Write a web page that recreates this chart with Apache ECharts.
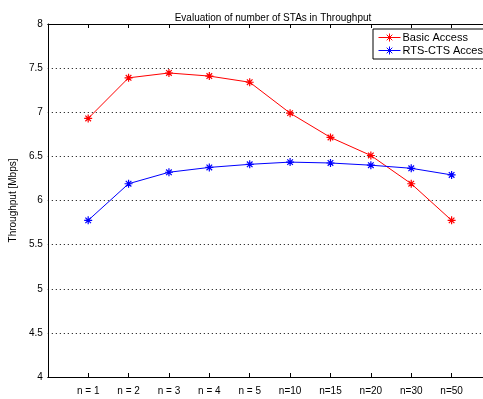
<!DOCTYPE html>
<html><head><meta charset="utf-8">
<script src="https://cdn.jsdelivr.net/npm/echarts@6/dist/echarts.min.js"></script>
<style>html,body{margin:0;padding:0;background:#fff;overflow:hidden;width:483px;height:399px}#c{width:500px;height:399px}</style>
</head><body><div id="c"></div>
<script>
const categories = ['n = 1','n = 2','n = 3','n = 4','n = 5','n=10','n=15','n=20','n=30','n=50'];
const basicAccess = [6.93, 7.39, 7.445, 7.41, 7.34, 6.99, 6.715, 6.51, 6.19, 5.775];
const rtsCtsAccess = [5.775, 6.19, 6.32, 6.375, 6.41, 6.435, 6.425, 6.40, 6.365, 6.29];
const yTicks = [4, 4.5, 5, 5.5, 6, 6.5, 7, 7.5, 8];

const star = 'path://M0,5L10,5M5,0L5,10M1.5,1.5L8.5,8.5M8.5,1.5L1.5,8.5';
const legendIcon = 'path://M0,4L22,4M7,4L15,4M11,0L11,8M8.2,1.2L13.8,6.8M13.8,1.2L8.2,6.8';
const font = 'Liberation Sans, Arial, sans-serif';
function pts(arr){ return arr.map((v,i)=>[i+1, v]); }

const chart = echarts.init(document.getElementById('c'), null, {renderer:'canvas'});
chart.setOption({
  animation:false,
  backgroundColor:'#fff',
  title:{text:'Evaluation of number of STAs in Throughput', left:268, textAlign:'center', top:8,
    textStyle:{fontFamily:font, fontSize:10, fontWeight:'normal', color:'#000'}},
  legend:{
    left:373, top:29, orient:'vertical', itemGap:0, itemWidth:22, itemHeight:8,
    padding:[2,6,2,3], borderColor:'#000', borderWidth:1, backgroundColor:'#fff',
    textStyle:{fontFamily:font, fontSize:11, lineHeight:11, color:'#000', padding:[0,0,0,-3]},
    data:[
      {name:'Basic Access', icon:legendIcon, itemStyle:{color:'none', borderColor:'#ff0000', borderWidth:1}},
      {name:'RTS-CTS Access', icon:legendIcon, itemStyle:{color:'none', borderColor:'#0000ff', borderWidth:1}}
    ]
  },
  grid:{left:44, top:24, width:448, bottom:22, containLabel:false},
  xAxis:[{
    type:'value', min:0, max:11, interval:1,
    axisLine:{show:true, lineStyle:{color:'#000', width:1}},
    axisTick:{show:true, inside:true, length:4, lineStyle:{color:'#000'}},
    axisLabel:{fontFamily:font, fontSize:10, color:'#000', margin:9,
      formatter:function(v){ return (v>=1 && v<=categories.length) ? categories[v-1] : ''; }},
    splitLine:{show:false}
  },{
    type:'value', position:'top', min:0, max:11, interval:1,
    axisLine:{show:true, lineStyle:{color:'#000', width:1}},
    axisTick:{show:true, inside:true, length:4, lineStyle:{color:'#000'}},
    axisLabel:{show:false}, splitLine:{show:false}
  }],
  yAxis:{
    type:'value', min:yTicks[0], max:yTicks[yTicks.length-1], interval:0.5,
    name:'Throughput [Mbps]', nameLocation:'middle', nameGap:23,
    nameTextStyle:{fontFamily:font, fontSize:10, color:'#000'},
    axisLine:{show:true, lineStyle:{color:'#000', width:1}},
    axisTick:{show:false},
    axisLabel:{fontFamily:font, fontSize:10, color:'#000', margin:5,
      formatter:function(v){ return String(v); }},
    splitLine:{show:true, lineStyle:{color:'#000', type:[1,3], width:1}}
  },
  series:[{
    name:'Basic Access', type:'line', data:pts(basicAccess),
    symbol:star, symbolSize:8, showAllSymbol:true,
    lineStyle:{color:'#ff0000', width:1},
    itemStyle:{color:'none', borderColor:'#ff0000', borderWidth:1.2}
  },{
    name:'RTS-CTS Access', type:'line', data:pts(rtsCtsAccess),
    symbol:star, symbolSize:8, showAllSymbol:true,
    lineStyle:{color:'#0000ff', width:1},
    itemStyle:{color:'none', borderColor:'#0000ff', borderWidth:1.2}
  }]
});
</script></body></html>
